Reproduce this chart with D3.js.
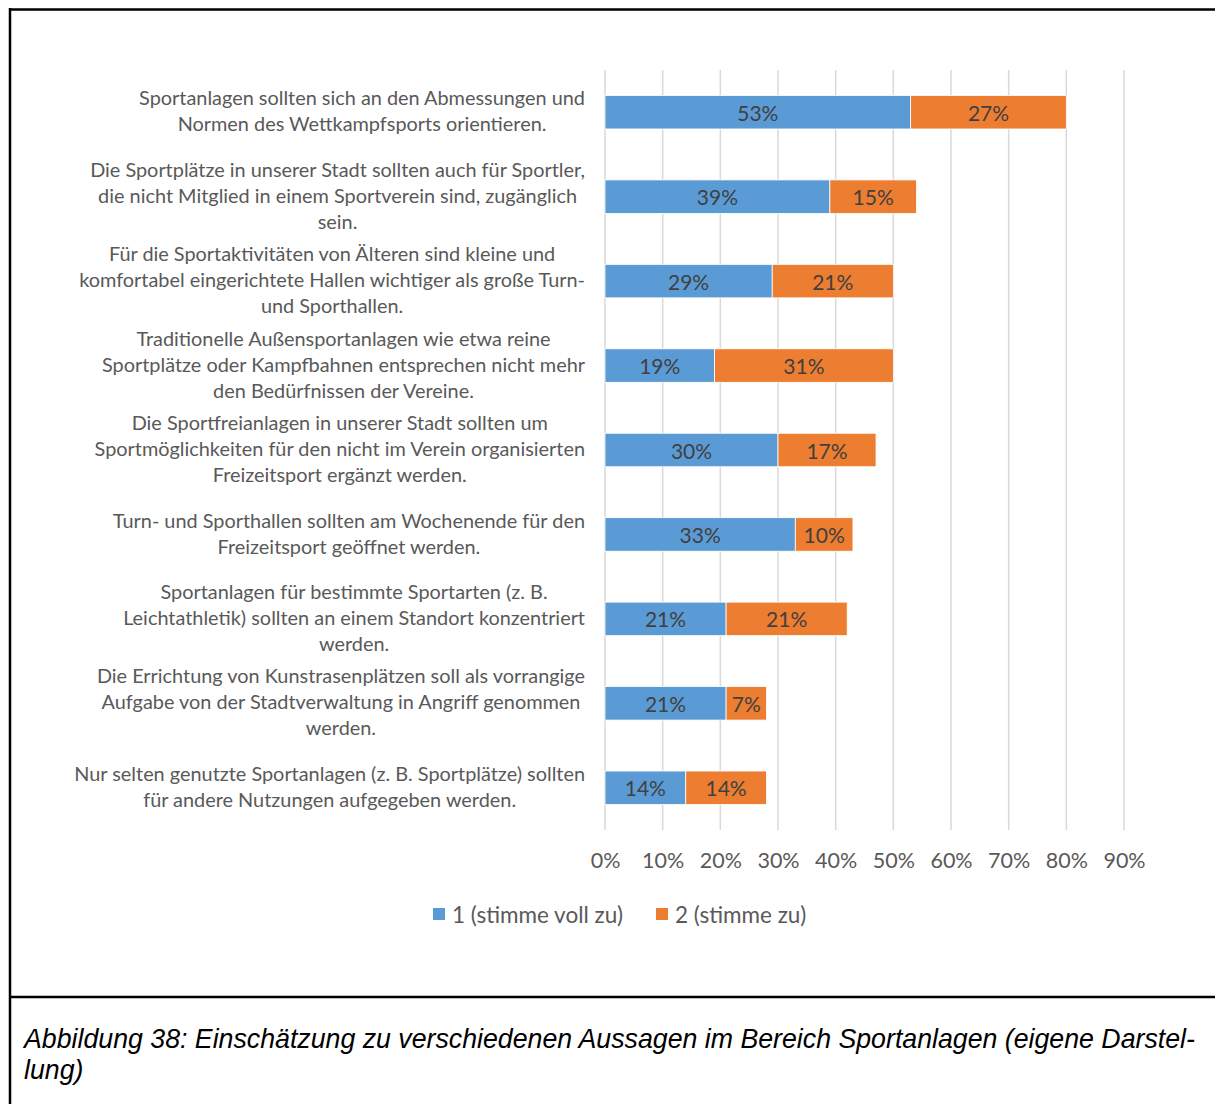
<!DOCTYPE html>
<html><head><meta charset="utf-8">
<script src="https://cdn.jsdelivr.net/npm/d3@7"></script>
<style>body{margin:0;background:#fff}svg{display:block}</style>
</head><body>
<script>
const categories = [
  ["Sportanlagen sollten sich an den Abmessungen und","Normen des Wettkampfsports orientieren."],
  ["Die Sportplätze in unserer Stadt sollten auch für Sportler,","die nicht Mitglied in einem Sportverein sind, zugänglich","sein."],
  ["Für die Sportaktivitäten von Älteren sind kleine und","komfortabel eingerichtete Hallen wichtiger als große Turn-","und Sporthallen."],
  ["Traditionelle Außensportanlagen wie etwa reine","Sportplätze oder Kampfbahnen entsprechen nicht mehr","den Bedürfnissen der Vereine."],
  ["Die Sportfreianlagen in unserer Stadt sollten um","Sportmöglichkeiten für den nicht im Verein organisierten","Freizeitsport ergänzt werden."],
  ["Turn- und Sporthallen sollten am Wochenende für den","Freizeitsport geöffnet werden."],
  ["Sportanlagen für bestimmte Sportarten (z. B.","Leichtathletik) sollten an einem Standort konzentriert","werden."],
  ["Die Errichtung von Kunstrasenplätzen soll als vorrangige","Aufgabe von der Stadtverwaltung in Angriff genommen","werden."],
  ["Nur selten genutzte Sportanlagen (z. B. Sportplätze) sollten","für andere Nutzungen aufgegeben werden."]
];
const seriesNames = ["1 (stimme voll zu)", "2 (stimme zu)"];
const stimmeVoll = [53, 39, 29, 19, 30, 33, 21, 21, 14];
const stimmeZu   = [27, 15, 21, 31, 17, 10, 21, 7, 14];
const tickValues = [0, 10, 20, 30, 40, 50, 60, 70, 80, 90];
const captionLines = ["Abbildung 38: Einschätzung zu verschiedenen Aussagen im Bereich Sportanlagen (eigene Darstel-", "lung)"];

const W = 1215, H = 1104;
const colors = ["#5B9BD5", "#ED7D31"];
const font = "Lato, 'Open Sans', sans-serif";
const svg = d3.select("body").append("svg").attr("width", W).attr("height", H);

// frame
svg.append("line").attr("x1", 9).attr("x2", W).attr("y1", 9.5).attr("y2", 9.5).attr("stroke", "#000").attr("stroke-width", 2.5);
svg.append("line").attr("x1", 10).attr("x2", 10).attr("y1", 8).attr("y2", H).attr("stroke", "#000").attr("stroke-width", 2.5);
svg.append("line").attr("x1", 9).attr("x2", W).attr("y1", 997).attr("y2", 997).attr("stroke", "#000").attr("stroke-width", 2.5);

const x = d3.scaleLinear().domain([0, 90]).range([605, 1124]);
const y = d3.scaleBand().domain(d3.range(categories.length)).range([70, 830]).paddingInner(0.6).paddingOuter(0.3);

// gridlines
svg.append("g").selectAll("line").data(tickValues).join("line")
  .attr("x1", d => x(d)).attr("x2", d => x(d)).attr("y1", 70).attr("y2", 830)
  .attr("stroke", "#D9D9D9").attr("stroke-width", 1.5);

// axis labels
const axis = d3.axisBottom(x).tickValues(tickValues).tickFormat(d => d + "%").tickSize(0).tickPadding(0);
const ag = svg.append("g").attr("transform", "translate(0,852)").call(axis);
ag.select(".domain").remove();
ag.selectAll("text").attr("font-family", font).attr("font-size", 21.5).attr("fill", "#595959").attr("dy", "0.75em");

// bars
const stack = categories.map((c, i) => [
  {i, s: 0, x0: 0, x1: stimmeVoll[i], v: stimmeVoll[i]},
  {i, s: 1, x0: stimmeVoll[i], x1: stimmeVoll[i] + stimmeZu[i], v: stimmeZu[i]}
]).flat();
const bh = 33.5;
svg.append("g").selectAll("rect").data(stack).join("rect")
  .attr("x", d => x(d.x0)).attr("width", d => x(d.x1) - x(d.x0))
  .attr("y", d => y(d.i) + y.bandwidth()/2 - bh/2).attr("height", bh)
  .attr("fill", d => colors[d.s]).attr("stroke", "#fff").attr("stroke-width", 0.8);
svg.append("g").selectAll("text").data(stack).join("text")
  .attr("x", d => (x(d.x0) + x(d.x1)) / 2).attr("y", d => y(d.i) + y.bandwidth()/2 + 1)
  .attr("dy", "0.36em").attr("text-anchor", "middle")
  .attr("font-family", font).attr("font-size", 21).attr("fill", "#404040")
  .text(d => d.v + "%");

// category labels
const probe = svg.append("text").attr("font-family", font).attr("font-size", 20).text(categories[1][0]);
const fs = 20 * 495 / probe.node().getComputedTextLength();
probe.remove();
const lh = 26;
categories.forEach((lines, i) => {
  const g = svg.append("g");
  const ts = lines.map((l, k) => g.append("text").attr("font-family", font).attr("font-size", fs)
    .attr("fill", "#595959").attr("text-anchor", "middle").text(l));
  const maxW = d3.max(ts, t => t.node().getComputedTextLength());
  const cx = 585 - maxW / 2;
  const cy = y(i) + y.bandwidth()/2 - 1;
  ts.forEach((t, k) => t.attr("x", cx).attr("y", cy + (k - (lines.length - 1) / 2) * lh).attr("dy", "0.36em"));
});

// legend
const legend = svg.append("g").attr("transform", "translate(0,914)");
const lx = [433, 656];
seriesNames.forEach((n, k) => {
  legend.append("rect").attr("x", lx[k]).attr("y", -6).attr("width", 12).attr("height", 12).attr("fill", colors[k]);
  legend.append("text").attr("x", lx[k] + 19).attr("y", 1).attr("dy", "0.36em")
    .attr("font-family", font).attr("font-size", 22.5).attr("fill", "#595959").text(n);
});

// caption
const cap = svg.append("g");
const c1 = cap.append("text").attr("x", 24).attr("y", 1048).attr("font-family", "'Liberation Sans', Arial, sans-serif")
  .attr("font-style", "italic").attr("font-size", 24).attr("fill", "#000").text(captionLines[0]);
const cw = c1.node().getComputedTextLength();
const cfs = 24 * 1171 / cw;
c1.attr("font-size", cfs);
cap.append("text").attr("x", 24).attr("y", 1079).attr("font-family", "'Liberation Sans', Arial, sans-serif")
  .attr("font-style", "italic").attr("font-size", cfs).attr("fill", "#000").text(captionLines[1]);
</script>
</body></html>
